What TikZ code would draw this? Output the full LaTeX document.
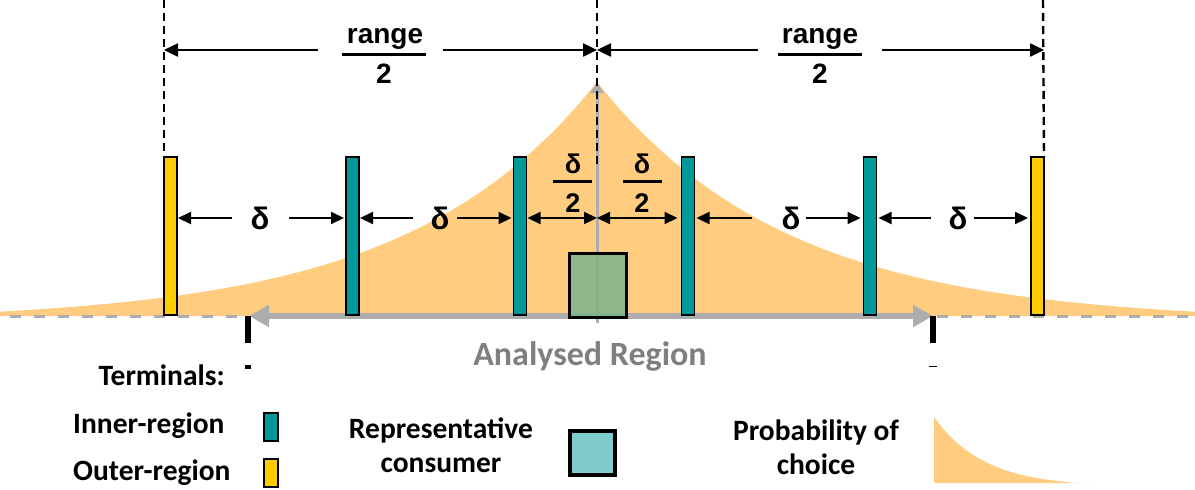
\documentclass[tikz,border=0pt]{standalone}
\usepackage{fontspec}
\setmainfont{Carlito}
\newfontfamily\arialf{Liberation Sans}
\usetikzlibrary{arrows.meta}
\definecolor{orng}{HTML}{FFCC80}
\definecolor{tealc}{HTML}{009999}
\definecolor{yell}{HTML}{FFCC00}
\definecolor{grayc}{HTML}{ADADAD}
\definecolor{consg}{HTML}{80B38A}
\definecolor{consl}{HTML}{80CBCB}
\definecolor{txtgray}{HTML}{7F7F7F}
\begin{document}
\begin{tikzpicture}[x=1pt,y=-1pt,
  innerbar/.style={draw=black, line width=1.5pt, fill=tealc, minimum width=13pt, minimum height=158pt, inner sep=0pt, outer sep=0pt},
  outerbar/.style={innerbar, fill=yell},
  darr/.style={line width=2pt, -{Triangle[length=13pt,width=12pt]}},
  ddarr/.style={line width=2pt, {Triangle[length=13pt,width=12pt]}-{Triangle[length=13pt,width=12pt]}},
  rarr/.style={line width=2.5pt, -{Triangle[length=14pt,width=13pt]}},
  vdash/.style={line width=2.4pt, dash pattern=on 8pt off 5pt},
  gdash/.style={grayc, line width=3pt, dash pattern=on 11pt off 13pt},
  gharr/.style={grayc, line width=6pt, {Triangle[length=20pt,width=21pt]}-{Triangle[length=20pt,width=21pt]}},
  gaxis/.style={grayc, line width=3pt, -{Triangle[length=11pt,width=13pt]}},
  arl/.style={font=\arialf\bfseries\fontsize{28}{32}\selectfont, inner sep=0pt, anchor=base},
  dl/.style={font=\arialf\bfseries\fontsize{31}{34}\selectfont, inner sep=0pt, anchor=base},
  dfl/.style={font=\arialf\bfseries\fontsize{27}{30}\selectfont, inner sep=0pt, anchor=base},
  fbar/.style={line width=3pt},
  lgd/.style={font=\bfseries\fontsize{29.5}{34}\selectfont, inner sep=0pt},
  tick/.style={fill=black}
]
\useasboundingbox (0,0) rectangle (1195,490);

% probability curve
\fill[orng] (0,316) -- plot[domain=0:597,samples=90] (\x,{316-max(0,240*exp(-(597-\x)/190)-6)})
  -- plot[domain=597:1195,samples=90] (\x,{316-max(0,240*exp(-(\x-597)/190)-6)}) -- (1195,316) -- cycle;

% baseline
\coordinate (tickL) at (249,316);
\coordinate (tickR) at (933,316);
\draw[gdash] (10,316) -- (245,316);
\draw[gdash] (937,316) -- (1195,316);
\draw[gharr] (tickL) -- (tickR);
\fill[tick] (245,316) rectangle (251,343);
\fill[tick] (245,365) rectangle (251,369);
\fill[tick] (930,316) rectangle (936,343);
\fill[tick] (929,365.5) rectangle (937,367);

% vertical axis
\coordinate (cbot) at (597,323);
\coordinate (ctip) at (597,82);
\draw[gaxis] (cbot) -- (ctip);

% terminals
\node[outerbar] (oL) at (170.5,236) {};
\node[innerbar] (i1) at (352.5,236) {};
\node[innerbar] (i2) at (520,236) {};
\node[innerbar] (i3) at (688,236) {};
\node[innerbar] (i4) at (870,236) {};
\node[outerbar] (oR) at (1037.5,236) {};

% consumer
\node[draw=black, line width=3pt, fill=consg, fill opacity=0.88, draw opacity=1, minimum width=57pt, minimum height=64pt, inner sep=0pt] (cons) at (597.5,285) {};

% dashed verticals
\coordinate (vLt) at (164,0);
\coordinate (vCt) at (597,0);
\coordinate (vRt) at (1043,0);
\coordinate (vCb) at (597,164);
\draw[vdash] (vLt) -- (oL.north west);
\draw[vdash] (vRt) -- (oR.north east);
\draw[vdash] (vCt) -- (vCb);

% range / 2
\coordinate (rc) at (597,50);
\coordinate (r1a) at (318,50);
\coordinate (r1b) at (443,50);
\coordinate (r2a) at (758,50);
\coordinate (r2b) at (882,50);
\draw[rarr] (r1a) -- (oL.north west |- r1a);
\draw[rarr] (r1b) -- (rc);
\draw[rarr] (r2a) -- (rc);
\draw[rarr] (r2b) -- (oR.north east |- r2b);
\node[arl] (rg1) at (385,43) {range};
\draw[fbar] (342,54) -- (426,54);
\node[arl] (rg1d) at (384,83) {2};
\node[arl] (rg2) at (820,43) {range};
\draw[fbar] (778,54) -- (862,54);
\node[arl] (rg2d) at (820,83) {2};

% delta arrows
\coordinate (cm) at (597,218);
\coordinate (t1a) at (232,218);
\coordinate (t1b) at (289,218);
\coordinate (t2a) at (413,218);
\coordinate (t2b) at (457,218);
\coordinate (t5a) at (752,218);
\coordinate (t5b) at (806,218);
\coordinate (t6a) at (931,218);
\coordinate (t6b) at (974,218);
\draw[darr, shorten >=1pt] (t1a) -- (oL.east |- t1a);
\draw[darr, shorten >=2pt] (t1b) -- (i1.west |- t1b);
\draw[darr, shorten >=1pt] (t2a) -- (i1.east |- t2a);
\draw[darr, shorten >=2pt] (t2b) -- (i2.west |- t2b);
\draw[ddarr, shorten <=1pt] (i2.east |- cm) -- (cm);
\draw[ddarr, shorten >=4pt] (cm) -- (i3.west |- cm);
\draw[darr, shorten >=2pt] (t5a) -- (i3.east |- t5a);
\draw[darr, shorten >=3pt] (t5b) -- (i4.west |- t5b);
\draw[darr, shorten >=2pt] (t6a) -- (i4.east |- t6a);
\draw[darr, shorten >=3pt] (t6b) -- (oR.west |- t6b);
\node[dl] (d1) at (260,229) {δ};
\node[dl] (d2) at (440,229) {δ};
\node[dl] (d5) at (791,229) {δ};
\node[dl] (d6) at (958,229) {δ};
\node[dfl] (d3) at (573,173) {δ};
\draw[fbar] (553,181) -- (592,181);
\node[dfl] (d3d) at (573,212) {2};
\node[dfl] (d4) at (642,173) {δ};
\draw[fbar] (623,181) -- (662,181);
\node[dfl] (d4d) at (642,212) {2};

% analysed region
\node[font=\bfseries\fontsize{34}{38}\selectfont, text=txtgray, inner sep=0pt, anchor=base] (ar) at (590,365) {Analysed Region};

% legend
\node[lgd, anchor=base east] (tl) at (225,385) {Terminals:};
\node[lgd, anchor=base west] (il) at (73,433) {Inner-region};
\node[lgd, anchor=base west] (ol) at (73,480) {Outer-region};
\node[innerbar, minimum height=28pt, minimum width=14pt] (lgi) at (271,427) {};
\node[outerbar, minimum height=28pt, minimum width=14pt] (lgo) at (271,473) {};
\node[lgd, align=center] (rcl) at (441,445) {Representative\\consumer};
\node[draw=black, line width=4pt, fill=consl, minimum width=45pt, minimum height=44pt, inner sep=0pt] (lgc) at (592.5,453) {};
\node[lgd, align=center] (pcl) at (816,447.5) {Probability of\\choice};
\fill[orng] (934,483) -- plot[domain=0:164,samples=50] ({934+\x},{483-max(0,70*exp(-\x/50)-4)}) -- cycle;
\end{tikzpicture}
\end{document}
